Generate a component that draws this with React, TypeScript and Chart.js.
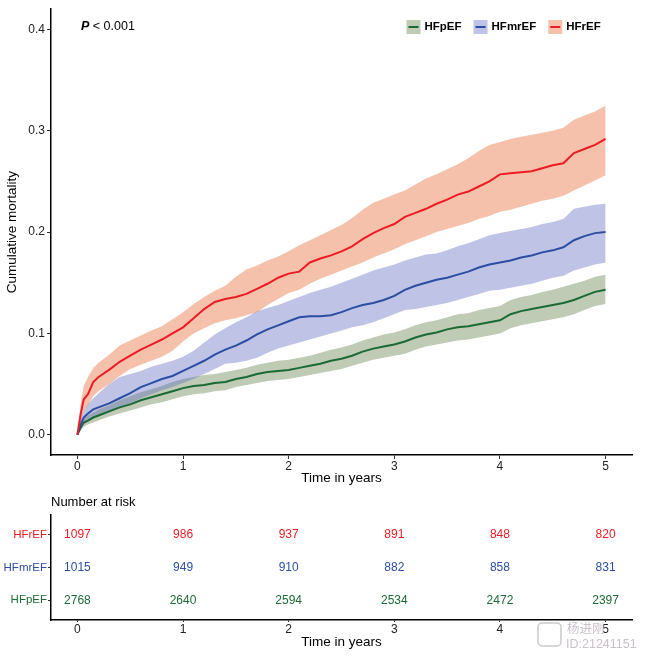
import React, { useEffect, useRef } from 'react';
import { Chart, registerables } from 'chart.js';

Chart.register(...registerables);

const FONT = '"Liberation Sans", Arial, Helvetica, sans-serif';

// ---- Data ----
const TIMES = [0, 0.03, 0.06, 0.1, 0.15, 0.2, 0.3, 0.4, 0.5, 0.6, 0.7, 0.8, 0.9, 1.0, 1.1, 1.2, 1.3, 1.4, 1.5, 1.6, 1.7, 1.8, 1.9, 2.0, 2.1, 2.2, 2.3, 2.4, 2.5, 2.6, 2.7, 2.8, 2.9, 3.0, 3.1, 3.2, 3.3, 3.4, 3.5, 3.6, 3.7, 3.8, 3.9, 4.0, 4.1, 4.2, 4.3, 4.4, 4.5, 4.6, 4.7, 4.8, 4.9, 5.0];

const HFrEF_EST = [0, 0.020, 0.035, 0.040, 0.052, 0.057, 0.064, 0.072, 0.078, 0.084, 0.089, 0.094, 0.100, 0.106, 0.115, 0.124, 0.131, 0.134, 0.136, 0.139, 0.144, 0.149, 0.155, 0.159, 0.161, 0.170, 0.174, 0.177, 0.181, 0.186, 0.193, 0.199, 0.204, 0.208, 0.215, 0.219, 0.223, 0.228, 0.232, 0.237, 0.240, 0.245, 0.250, 0.257, 0.258, 0.259, 0.260, 0.263, 0.266, 0.268, 0.278, 0.282, 0.286, 0.292];
const HFrEF_LO = [0, 0.012, 0.024, 0.029, 0.038, 0.043, 0.050, 0.058, 0.065, 0.069, 0.073, 0.077, 0.083, 0.092, 0.100, 0.105, 0.110, 0.113, 0.115, 0.118, 0.121, 0.128, 0.134, 0.140, 0.143, 0.149, 0.154, 0.158, 0.162, 0.166, 0.170, 0.175, 0.179, 0.183, 0.188, 0.192, 0.196, 0.200, 0.203, 0.206, 0.209, 0.213, 0.216, 0.220, 0.222, 0.225, 0.228, 0.231, 0.233, 0.236, 0.241, 0.246, 0.251, 0.256];
const HFrEF_HI = [0, 0.030, 0.048, 0.057, 0.066, 0.071, 0.079, 0.088, 0.093, 0.098, 0.103, 0.107, 0.114, 0.121, 0.129, 0.136, 0.142, 0.147, 0.156, 0.163, 0.167, 0.172, 0.176, 0.181, 0.187, 0.192, 0.197, 0.202, 0.207, 0.214, 0.222, 0.229, 0.233, 0.237, 0.241, 0.247, 0.253, 0.257, 0.262, 0.267, 0.273, 0.280, 0.286, 0.289, 0.292, 0.294, 0.296, 0.298, 0.300, 0.303, 0.311, 0.315, 0.319, 0.325];

const HFmrEF_EST = [0, 0.010, 0.017, 0.021, 0.025, 0.027, 0.031, 0.036, 0.041, 0.047, 0.051, 0.055, 0.058, 0.063, 0.068, 0.073, 0.079, 0.084, 0.088, 0.093, 0.099, 0.104, 0.108, 0.112, 0.116, 0.117, 0.117, 0.118, 0.121, 0.125, 0.128, 0.130, 0.133, 0.137, 0.143, 0.147, 0.150, 0.153, 0.155, 0.158, 0.161, 0.165, 0.168, 0.170, 0.172, 0.175, 0.177, 0.180, 0.182, 0.185, 0.192, 0.196, 0.199, 0.200];
const HFmrEF_LO = [0, 0.005, 0.010, 0.013, 0.016, 0.018, 0.022, 0.027, 0.031, 0.036, 0.040, 0.044, 0.047, 0.051, 0.055, 0.060, 0.065, 0.070, 0.071, 0.073, 0.076, 0.081, 0.085, 0.088, 0.091, 0.094, 0.097, 0.100, 0.103, 0.106, 0.108, 0.111, 0.115, 0.119, 0.123, 0.124, 0.126, 0.128, 0.130, 0.133, 0.136, 0.139, 0.142, 0.143, 0.145, 0.147, 0.149, 0.152, 0.155, 0.157, 0.162, 0.165, 0.168, 0.170];
const HFmrEF_HI = [0, 0.015, 0.024, 0.030, 0.036, 0.041, 0.050, 0.057, 0.060, 0.063, 0.067, 0.070, 0.073, 0.077, 0.083, 0.091, 0.099, 0.105, 0.111, 0.116, 0.122, 0.125, 0.128, 0.132, 0.136, 0.140, 0.143, 0.146, 0.150, 0.154, 0.158, 0.162, 0.165, 0.168, 0.172, 0.175, 0.178, 0.179, 0.182, 0.186, 0.189, 0.193, 0.197, 0.199, 0.201, 0.203, 0.205, 0.208, 0.210, 0.213, 0.223, 0.225, 0.227, 0.228];

const HFpEF_EST = [0, 0.007, 0.012, 0.014, 0.017, 0.019, 0.023, 0.027, 0.030, 0.034, 0.037, 0.040, 0.043, 0.046, 0.048, 0.049, 0.051, 0.052, 0.055, 0.057, 0.060, 0.062, 0.063, 0.064, 0.066, 0.068, 0.070, 0.073, 0.075, 0.078, 0.082, 0.085, 0.087, 0.089, 0.092, 0.096, 0.099, 0.101, 0.104, 0.106, 0.107, 0.109, 0.111, 0.113, 0.119, 0.122, 0.124, 0.126, 0.128, 0.130, 0.133, 0.137, 0.141, 0.143];
const HFpEF_LO = [0, 0.004, 0.008, 0.010, 0.012, 0.014, 0.018, 0.021, 0.024, 0.027, 0.030, 0.032, 0.035, 0.038, 0.040, 0.041, 0.043, 0.044, 0.047, 0.049, 0.051, 0.053, 0.054, 0.055, 0.057, 0.059, 0.061, 0.063, 0.065, 0.068, 0.071, 0.074, 0.076, 0.078, 0.080, 0.084, 0.087, 0.089, 0.091, 0.093, 0.094, 0.096, 0.098, 0.100, 0.105, 0.108, 0.110, 0.112, 0.114, 0.116, 0.119, 0.123, 0.127, 0.129];
const HFpEF_HI = [0, 0.010, 0.016, 0.019, 0.022, 0.025, 0.029, 0.034, 0.038, 0.042, 0.045, 0.048, 0.052, 0.055, 0.057, 0.059, 0.060, 0.062, 0.064, 0.066, 0.069, 0.071, 0.073, 0.074, 0.076, 0.078, 0.081, 0.084, 0.086, 0.089, 0.093, 0.096, 0.099, 0.101, 0.104, 0.108, 0.111, 0.113, 0.116, 0.119, 0.120, 0.123, 0.125, 0.127, 0.133, 0.136, 0.138, 0.141, 0.143, 0.146, 0.149, 0.152, 0.156, 0.158];

const LEGEND_GROUPS = ['HFpEF', 'HFmrEF', 'HFrEF'];
const RISK_GROUPS = ['HFrEF', 'HFmrEF', 'HFpEF'];
const RISK_TIMES = [0, 1, 2, 3, 4, 5];
const RISK_HFrEF = [1097, 986, 937, 891, 848, 820];
const RISK_HFmrEF = [1015, 949, 910, 882, 858, 831];
const RISK_HFpEF = [2768, 2640, 2594, 2534, 2472, 2397];
const X_TICKS = [0, 1, 2, 3, 4, 5];
const Y_TICKS = [0, 0.1, 0.2, 0.3, 0.4];

// ---- Styles ----
const COLORS: Record<string, string> = { HFrEF: '#EC1C24', HFmrEF: '#2B4EA2', HFpEF: '#1B6A35' };
const BANDS: Record<string, string> = {
  HFrEF: 'rgba(232,100,45,0.4)',
  HFmrEF: 'rgba(95,105,190,0.4)',
  HFpEF: 'rgba(95,125,67,0.4)',
};

const pts = (xs: number[], ys: number[]) => xs.map((x, i) => ({ x, y: ys[i] }));

const axisGrid = (len: number) => ({
  display: true,
  drawOnChartArea: false,
  drawTicks: true,
  tickLength: len,
  tickColor: '#333',
  tickWidth: 1,
});
const axisBorder = { display: true, color: '#000', width: 1.5 };

const kmOverlay = {
  id: 'kmOverlay',
  afterDraw(chart: any) {
    const ctx = chart.ctx;
    const area = chart.chartArea;
    ctx.save();
    ctx.textBaseline = 'middle';
    ctx.textAlign = 'left';
    const cy = 27;
    ctx.fillStyle = '#000';
    ctx.font = `italic bold 12.5px ${FONT}`;
    const px = area.left + 30;
    ctx.fillText('P', px, cy);
    const pw = ctx.measureText('P').width;
    ctx.font = `12.5px ${FONT}`;
    ctx.fillText(' < 0.001', px + pw, cy);

    let x = 406.5;
    ctx.font = `bold 11.5px ${FONT}`;
    LEGEND_GROUPS.forEach((g) => {
      ctx.fillStyle = '#fff';
      ctx.fillRect(x, cy - 7, 14, 14);
      ctx.fillStyle = BANDS[g];
      ctx.fillRect(x, cy - 7, 14, 14);
      ctx.strokeStyle = COLORS[g];
      ctx.lineWidth = 2;
      ctx.beginPath();
      ctx.moveTo(x + 2, cy);
      ctx.lineTo(x + 12, cy);
      ctx.stroke();
      ctx.fillStyle = '#000';
      ctx.fillText(g, x + 18, cy);
      x += 18 + ctx.measureText(g).width + 12;
    });
    ctx.restore();
  },
};

const riskOverlay = {
  id: 'riskOverlay',
  afterDatasetsDraw(chart: any) {
    const ctx = chart.ctx;
    ctx.save();
    ctx.textAlign = 'center';
    ctx.textBaseline = 'middle';
    ctx.font = `12px ${FONT}`;
    chart.data.datasets.forEach((ds: any, d: number) => {
      const meta = chart.getDatasetMeta(d);
      ctx.fillStyle = ds.textColor;
      meta.data.forEach((el: any, i: number) => {
        ctx.fillText(String(ds.data[i].n), el.x, el.y);
      });
    });
    // title
    ctx.textAlign = 'left';
    ctx.fillStyle = '#000';
    ctx.font = `13px ${FONT}`;
    ctx.fillText('Number at risk', chart.chartArea.left, 12);
    // watermark
    ctx.strokeStyle = 'rgba(200,195,200,0.9)';
    ctx.lineWidth = 1.5;
    const bx = 538, by = 133, bw = 23, bh = 23, r = 4;
    ctx.beginPath();
    ctx.moveTo(bx + r, by);
    ctx.arcTo(bx + bw, by, bx + bw, by + bh, r);
    ctx.arcTo(bx + bw, by + bh, bx, by + bh, r);
    ctx.arcTo(bx, by + bh, bx, by, r);
    ctx.arcTo(bx, by, bx + bw, by, r);
    ctx.closePath();
    ctx.stroke();
    ctx.fillStyle = 'rgba(200,190,200,0.95)';
    ctx.font = `12.5px "Noto Sans CJK SC", sans-serif`;
    ctx.fillText('杨进刚', 567, 138);
    ctx.font = `12.5px ${FONT}`;
    ctx.fillText('ID:21241151', 566, 155);
    ctx.restore();
  },
};

export default function App() {
  const mainRef = useRef<HTMLCanvasElement>(null);
  const riskRef = useRef<HTMLCanvasElement>(null);

  useEffect(() => {
    document.body.style.margin = '0';
    const groups = [
      { name: 'HFrEF', est: HFrEF_EST, lo: HFrEF_LO, hi: HFrEF_HI },
      { name: 'HFmrEF', est: HFmrEF_EST, lo: HFmrEF_LO, hi: HFmrEF_HI },
      { name: 'HFpEF', est: HFpEF_EST, lo: HFpEF_LO, hi: HFpEF_HI },
    ];
    const datasets: any[] = [];
    groups.forEach((g) => {
      datasets.push({
        label: g.name,
        data: pts(TIMES, g.est),
        borderColor: COLORS[g.name],
        borderWidth: 2,
        pointRadius: 0,
        tension: 0,
        fill: false,
      });
    });
    groups.forEach((g) => {
      const loIndex = datasets.length;
      datasets.push({
        label: g.name + ' lower',
        data: pts(TIMES, g.lo),
        borderWidth: 0,
        borderColor: 'rgba(0,0,0,0)',
        pointRadius: 0,
        tension: 0,
        fill: false,
      });
      datasets.push({
        label: g.name + ' upper',
        data: pts(TIMES, g.hi),
        borderWidth: 0,
        borderColor: 'rgba(0,0,0,0)',
        backgroundColor: BANDS[g.name],
        pointRadius: 0,
        tension: 0,
        fill: { target: loIndex },
      });
    });

    const main = new Chart(mainRef.current as HTMLCanvasElement, {
      type: 'line',
      data: { datasets },
      options: {
        animation: false,
        responsive: false,
        events: [],
        layout: { padding: { top: 8, right: 15, left: 0, bottom: 0 } },
        plugins: { legend: { display: false }, tooltip: { enabled: false } },
        scales: {
          x: {
            type: 'linear',
            min: -0.25,
            max: 5.25,
            afterBuildTicks: (s: any) => {
              s.ticks = X_TICKS.map((v) => ({ value: v }));
            },
            afterFit: (s: any) => {
              s.height = 35;
            },
            ticks: {
              font: { size: 12, family: FONT },
              color: '#222',
              padding: 0,
              maxRotation: 0,
              autoSkip: false,
              callback: (v: any) => String(v),
            },
            grid: axisGrid(4),
            border: axisBorder,
            title: {
              display: true,
              text: 'Time in years',
              font: { size: 13.5, family: FONT },
              color: '#000',
              padding: { top: 0, bottom: 3.8 },
            },
          },
          y: {
            type: 'linear',
            min: -0.02,
            max: 0.42,
            afterBuildTicks: (s: any) => {
              s.ticks = Y_TICKS.map((v) => ({ value: v }));
            },
            afterFit: (s: any) => {
              s.width = 51;
            },
            ticks: {
              font: { size: 12, family: FONT },
              color: '#222',
              padding: 2,
              callback: (v: any) => Number(v).toFixed(1),
            },
            grid: axisGrid(4),
            border: axisBorder,
            title: {
              display: true,
              text: 'Cumulative mortality',
              font: { size: 13.5, family: FONT },
              color: '#000',
              padding: { top: 4.4, bottom: 0 },
            },
          },
        },
      } as any,
      plugins: [kmOverlay],
    });

    const riskSeries = [RISK_HFrEF, RISK_HFmrEF, RISK_HFpEF];
    const riskDatasets = RISK_GROUPS.map((g, gi) => ({
      label: g,
      textColor: COLORS[g],
      data: RISK_TIMES.map((t, i) => ({ x: t, y: RISK_GROUPS.length - gi, n: riskSeries[gi][i] })),
      pointRadius: 0,
      showLine: false,
    }));

    const risk = new Chart(riskRef.current as HTMLCanvasElement, {
      type: 'scatter',
      data: { datasets: riskDatasets as any },
      options: {
        animation: false,
        responsive: false,
        events: [],
        layout: { padding: { top: 25, right: 15, left: 0, bottom: 0 } },
        plugins: { legend: { display: false }, tooltip: { enabled: false } },
        scales: {
          x: {
            type: 'linear',
            min: -0.25,
            max: 5.25,
            afterBuildTicks: (s: any) => {
              s.ticks = X_TICKS.map((v) => ({ value: v }));
            },
            afterFit: (s: any) => {
              s.height = 39;
            },
            ticks: {
              font: { size: 12, family: FONT },
              color: '#222',
              padding: 0,
              maxRotation: 0,
              autoSkip: false,
              callback: (v: any) => String(v),
            },
            grid: axisGrid(2),
            border: axisBorder,
            title: {
              display: true,
              text: 'Time in years',
              font: { size: 13.5, family: FONT },
              color: '#000',
              padding: { top: 0, bottom: 8.6 },
            },
          },
          y: {
            type: 'linear',
            min: 0.4,
            max: 3.6,
            afterBuildTicks: (s: any) => {
              s.ticks = [1, 2, 3].map((v) => ({ value: v }));
            },
            afterFit: (s: any) => {
              s.width = 51;
            },
            ticks: {
              font: { size: 11.5, family: FONT },
              padding: 1,
              color: (c: any) => COLORS[RISK_GROUPS[RISK_GROUPS.length - c.tick.value]] || '#000',
              callback: (v: any) => RISK_GROUPS[RISK_GROUPS.length - Number(v)],
            },
            grid: axisGrid(3),
            border: axisBorder,
          },
        },
      } as any,
      plugins: [riskOverlay],
    });

    return () => {
      main.destroy();
      risk.destroy();
    };
  }, []);

  return (
    <div style={{ width: 647, height: 659, background: '#fff' }}>
      <canvas ref={mainRef} width={647} height={490} style={{ display: 'block' }} />
      <canvas ref={riskRef} width={647} height={169} style={{ display: 'block' }} />
    </div>
  );
}
